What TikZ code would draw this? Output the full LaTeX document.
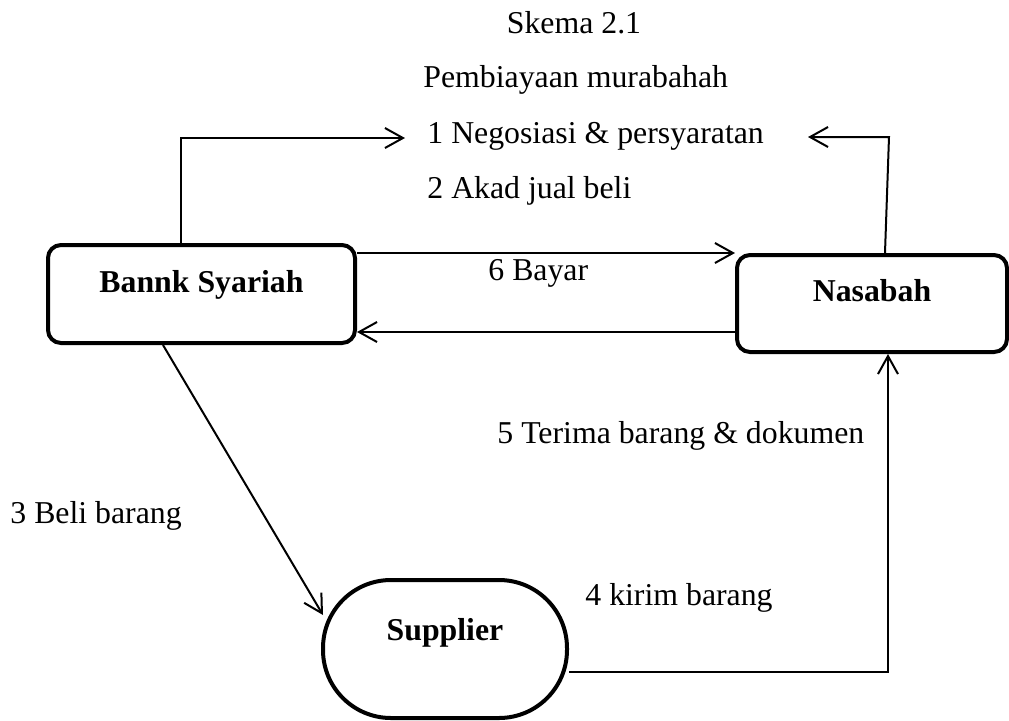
\documentclass[tikz,border=0pt]{standalone}
\usepackage{fontspec}
\setmainfont{Liberation Serif}
\usetikzlibrary{arrows.meta}
\begin{document}
\begin{tikzpicture}[x=0.5pt,y=-0.5pt,
  every node/.style={font=\fontsize{15.9}{18}\selectfont},
  txt/.style={inner sep=0pt, anchor=base west},
  boxnode/.style={draw, line width=2pt, inner sep=0pt, font=\fontsize{15.9}{18}\selectfont\bfseries},
  conn/.style={line width=1pt, -{Straight Barb[length=9pt,width=10pt,line width=1pt]}},
  plainconn/.style={line width=1pt}]
\useasboundingbox (0,0) rectangle (1009,720);
% boxes
\node[boxnode, rounded corners=6.5pt, minimum width=153.5pt, text height=23.5pt, text depth=25.5pt] (bank) at (201.5,294) {Bannk Syariah};
\node[boxnode, rounded corners=6.5pt, minimum width=135pt, text height=23pt, text depth=25.5pt] (nasabah) at (872,303.5) {Nasabah};
\node[boxnode, rounded corners=34pt, minimum width=122pt, text height=30pt, text depth=39pt] (supplier) at (445,649) {Supplier};
% texts
\node[inner sep=0pt, anchor=base] (title) at (574,33) {Skema 2.1};
\node[txt] (sub) at (423,87) {Pembiayaan murabahah};
\node[txt] (l1) at (427,143) {1 Negosiasi \& persyaratan};
\node[txt] (l2) at (427,198) {2 Akad jual beli};
\node[txt] (l6) at (488,280) {6 Bayar};
\node[txt] (l5) at (497,443) {5 Terima barang \& dokumen};
\node[txt] (l3) at (10,523) {3 Beli barang};
\node[txt] (l4) at (585,605) {4 kirim barang};
% helper coordinates
\coordinate (c1) at (181,138);
\coordinate (t1) at (405,138);
\coordinate (c2) at (889,137);
\coordinate (t2) at (808,137);
\coordinate (c3) at (888,672);
% connectors
\draw[conn] (bank.north -| c1) -- (c1) -- (t1);
\draw[conn] (nasabah.north -| 885,0) -- (c2) -- (t2);
\draw[conn] (bank.east |- 0,253) -- (nasabah.west |- 0,253);
\draw[conn] (nasabah.west |- 0,332) -- (bank.east |- 0,332);
\draw[conn] (bank.south -| 163,0) -- (323,615);
\draw[conn] (supplier.east |- c3) -- (c3) -- (nasabah.south -| c3);
\end{tikzpicture}
\end{document}
